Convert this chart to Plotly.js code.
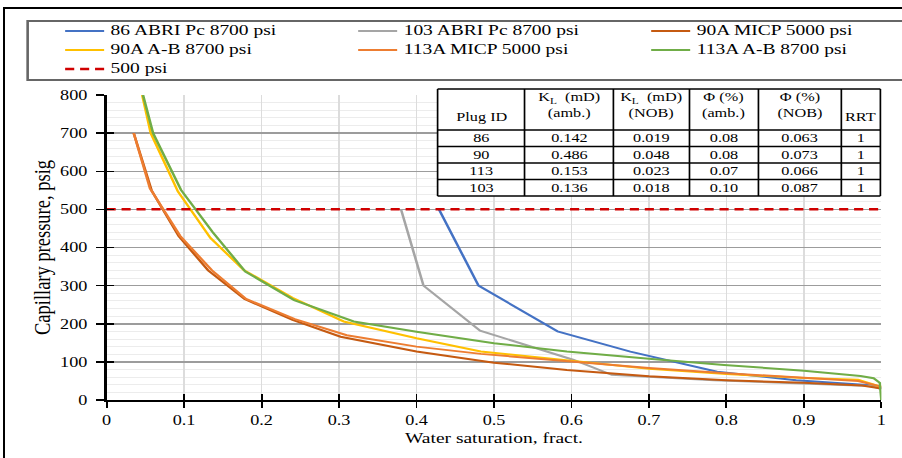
<!DOCTYPE html>
<html>
<head>
<meta charset="utf-8">
<script src="https://cdn.plot.ly/plotly-3.0.1.min.js"></script>
<style>
  html, body { margin:0; padding:0; background:#fff; width:902px; height:458px; overflow:hidden; }
  #wrap { position:absolute; left:0; top:0; width:694px; height:458px; transform:scaleX(1.3); transform-origin:0 0; }
  #chart { width:694px; height:458px; }
  #frame { position:absolute; left:3px; top:7px; width:1000px; height:1000px; border-left:2px solid #000; border-top:2px solid #000; pointer-events:none; }
</style>
</head>
<body>
<div id="wrap"><div id="chart"></div></div>
<div id="frame"></div>
<script>
// ---- data ----
const sw86 = [0.429, 0.480, 0.582, 0.676, 0.788, 0.890, 0.986, 1.0];
const pc86 = [500, 300, 180, 127, 74, 52, 39, 31];

const sw103 = [0.380, 0.409, 0.482, 0.603, 0.652, 0.784, 0.986, 1.0];
const pc103 = [500, 300, 182, 105, 66, 52, 37, 29];

const sw90M = [0.035, 0.058, 0.093, 0.131, 0.178, 0.240, 0.302, 0.400, 0.500, 0.594, 0.700, 0.800, 0.900, 0.975, 1.0];
const pc90M = [700, 550, 430, 340, 265, 210, 166, 127, 98, 79, 62, 52, 45, 38, 30];

const sw90AB = [0.046, 0.057, 0.092, 0.134, 0.177, 0.240, 0.306, 0.400, 0.483, 0.594, 0.700, 0.800, 0.900, 0.970, 1.0];
const pc90AB = [800, 700, 547, 425, 341, 268, 206, 162, 127, 103, 82, 68, 58, 53, 34];

const sw113M = [0.035, 0.056, 0.095, 0.136, 0.180, 0.243, 0.310, 0.400, 0.483, 0.594, 0.700, 0.800, 0.900, 0.970, 1.0];
const pc113M = [700, 555, 430, 340, 265, 212, 170, 140, 121, 103, 84, 70, 58, 50, 35];

const sw113AB = [0.047, 0.060, 0.096, 0.137, 0.179, 0.242, 0.319, 0.400, 0.500, 0.594, 0.700, 0.797, 0.900, 0.973, 0.990, 0.998, 1.0];
const pc113AB = [800, 700, 551, 440, 337, 262, 206, 179, 149, 127, 108, 92, 77, 63, 57, 45, 0];

const refSw = [0, 1];
const refPc = [500, 500];

const seriesNames = ['86 ABRI Pc 8700 psi', '103 ABRI Pc 8700 psi', '90A MICP 5000 psi',
                     '90A A-B 8700 psi', '113A MICP 5000 psi', '113A A-B 8700 psi', '500 psi'];

// inset table
const tableHeader = ['Plug ID', 'K<sub>L</sub>  (mD)<br>(amb.)', 'K<sub>L</sub>  (mD)<br>(NOB)',
                     'Φ (%)<br>(amb.)', 'Φ (%)<br>(NOB)', 'RRT'];
const plugIds = ['86', '90', '113', '103'];
const klAmb = ['0.142', '0.486', '0.153', '0.136'];
const klNob = ['0.019', '0.048', '0.023', '0.018'];
const phiAmb = ['0.08', '0.08', '0.07', '0.10'];
const phiNob = ['0.063', '0.073', '0.066', '0.087'];
const rrt = ['1', '1', '1', '1'];

const xTicks = [0, 0.1, 0.2, 0.3, 0.4, 0.5, 0.6, 0.7, 0.8, 0.9, 1];
const xTickText = ['0', '0.1', '0.2', '0.3', '0.4', '0.5', '0.6', '0.7', '0.8', '0.9', '1'];

// ---- styling ----
const colors = ['#4472C4', '#A5A5A5', '#C55A11', '#FFC000', '#ED7D31', '#70AD47', '#D00000'];
const lf = s => '<span style="font-size:15px">' + s + '</span>';

function line(x, y, i, extra) {
  return Object.assign({
    type: 'scatter', mode: 'lines', x: x, y: y, name: lf(seriesNames[i]),
    line: { color: colors[i], width: 2 }, hoverinfo: 'skip'
  }, extra || {});
}

const traces = [
  line(sw86, pc86, 0),
  line(sw103, pc103, 1),
  line(sw90M, pc90M, 2),
  line(sw90AB, pc90AB, 3),
  line(sw113M, pc113M, 4),
  line(sw113AB, pc113AB, 5),
  line(refSw, refPc, 6, { line: { color: colors[6], width: 2.5, dash: '7px,4.5px' }, xaxis: 'x2', yaxis: 'y2' })
];

// table geometry (paper coordinates)
const colEdges = [0.4272, 0.5394, 0.6541, 0.7523, 0.8413, 0.9483, 0.9987];
const rowEdges = [1.0, 0.8682, 0.8151, 0.7621, 0.7090, 0.6559];
const tFont = { family: 'Liberation Serif', size: 12.5, color: '#000' };
const shapes = [
  { type: 'rect', xref: 'paper', yref: 'paper', x0: -0.1019, x1: 1.03, y0: 1.0289, y1: 1.2186,
    line: { color: '#666', width: 2 }, fillcolor: 'rgba(0,0,0,0)', layer: 'below' },
  { type: 'rect', xref: 'paper', yref: 'paper', x0: colEdges[0], x1: colEdges[6], y0: rowEdges[5], y1: rowEdges[0],
    line: { width: 0 }, fillcolor: '#fff', layer: 'above' }
];
rowEdges.forEach(y => shapes.push({ type: 'line', xref: 'paper', yref: 'paper', x0: colEdges[0], x1: colEdges[6], y0: y, y1: y,
  line: { color: '#000', width: 1.5 }, layer: 'above' }));
colEdges.forEach(x => shapes.push({ type: 'line', xref: 'paper', yref: 'paper', x0: x, x1: x, y0: rowEdges[5], y1: rowEdges[0],
  line: { color: '#000', width: 1.3 }, layer: 'above' }));

const tableCols = [plugIds, klAmb, klNob, phiAmb, phiNob, rrt];
const annotations = [];
tableHeader.forEach((h, c) => {
  const xc = (colEdges[c] + colEdges[c + 1]) / 2;
  const twoLine = h.indexOf('<br>') >= 0;
  annotations.push({ xref: 'paper', yref: 'paper', x: xc, y: twoLine ? 0.9486 : 0.9100,
    text: h, showarrow: false, xanchor: 'center', yanchor: 'middle', font: tFont });
});
tableCols.forEach((col, c) => {
  const xc = (colEdges[c] + colEdges[c + 1]) / 2;
  col.forEach((v, r) => {
    const yc = (rowEdges[r + 1] + rowEdges[r + 2]) / 2;
    annotations.push({ xref: 'paper', yref: 'paper', x: xc, y: yc, text: v, showarrow: false,
      xanchor: 'center', yanchor: 'middle', font: tFont });
  });
});

const layout = {
  width: 694, height: 458,
  margin: { l: 81.5, r: 16.3, t: 89, b: 58, autoexpand: false },
  paper_bgcolor: '#fff', plot_bgcolor: '#fff',
  font: { family: 'Liberation Serif', color: '#000', size: 14 },
  showlegend: true,
  legend: {
    orientation: 'h', x: -0.0619, xanchor: 'left', y: 1.2331, yanchor: 'top',
    entrywidth: 180.4, entrywidthmode: 'pixels',
    bgcolor: 'rgba(0,0,0,0)', borderwidth: 0,
    font: { family: 'Liberation Serif', size: 11, color: '#000' },
    traceorder: 'normal'
  },
  xaxis: {
    range: [0, 1], tickvals: xTicks, ticktext: xTickText,
    ticks: 'outside', ticklen: 6, tickwidth: 1.5, tickcolor: '#000',
    showline: true, linecolor: '#000', linewidth: 2,
    showgrid: true, gridcolor: '#dcdcdc', gridwidth: 1, zeroline: false,
    tickfont: { size: 14 },
    title: { text: 'Water saturation, fract.', font: { size: 15 }, standoff: 6 },
    fixedrange: true
  },
  yaxis: {
    range: [0, 800], dtick: 100, tick0: 0, domain: [0, 0.9807],
    ticks: 'outside', ticklen: 6, tickwidth: 1.5, tickcolor: '#000',
    showline: true, linecolor: '#000', linewidth: 2,
    showgrid: true, gridcolor: '#9c9c9c', gridwidth: 1.5, zeroline: false,
    minor: { dtick: 20, showgrid: true, gridcolor: '#ececec', gridwidth: 1 },
    ticklabelstandoff: 4,
    tickfont: { size: 14 },
    title: { text: 'Capillary pressure, psig', font: { size: 18.5 }, standoff: 2 },
    fixedrange: true
  },
  xaxis2: {
    overlaying: 'x', anchor: 'y2', range: [0, 1], tickvals: xTicks,
    ticks: 'inside', ticklen: 6, tickwidth: 1.5, tickcolor: '#000',
    showticklabels: false, showgrid: false, zeroline: false, showline: false, fixedrange: true
  },
  yaxis2: {
    overlaying: 'y', anchor: 'x2', range: [0, 800], dtick: 100, tick0: 0,
    ticks: 'inside', ticklen: 6, tickwidth: 1.5, tickcolor: '#000',
    showticklabels: false, showgrid: false, zeroline: false, showline: false, fixedrange: true
  },
  shapes: shapes,
  annotations: annotations
};

Plotly.newPlot('chart', traces, layout, { staticPlot: true, displayModeBar: false, responsive: false });
</script>
</body>
</html>
